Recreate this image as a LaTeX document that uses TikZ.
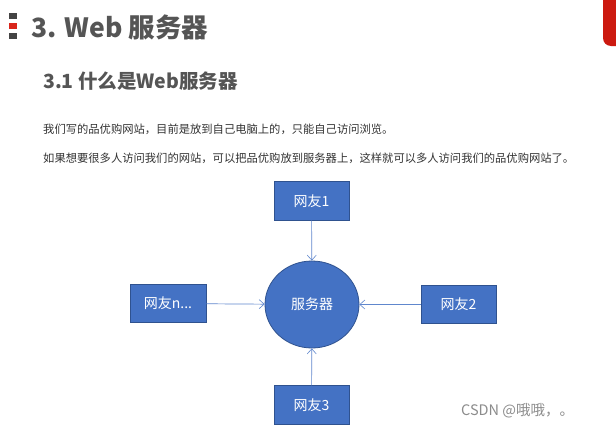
\documentclass[tikz,border=0pt]{standalone}
\usepackage{fontspec}
\setmainfont{Noto Sans CJK SC}
\usetikzlibrary{arrows.meta,shapes.geometric}
\definecolor{boxblue}{HTML}{4472C4}
\definecolor{boxedge}{HTML}{2F528F}
\definecolor{titlegray}{HTML}{555555}
\definecolor{textgray}{HTML}{333333}
\definecolor{barred}{HTML}{D9261C}
\definecolor{markred}{HTML}{CC1A10}
\tikzset{
  userbox/.style={draw=boxedge, fill=boxblue, line width=0.8pt, minimum width=75pt, minimum height=38.5pt, inner sep=0pt, text=white, font=\fontsize{14pt}{16pt}\selectfont},
  server/.style={ellipse, draw=boxedge, fill=boxblue, line width=0.8pt, minimum width=94pt, minimum height=87pt, inner sep=0pt, text=white, font=\fontsize{14pt}{16pt}\selectfont},
  link/.style={draw=boxblue!85!white, line width=0.7pt, -{Straight Barb[length=5pt,width=9pt,line width=0.6pt]}},
}
\begin{document}
\begin{tikzpicture}[x=1pt,y=-1pt]
\useasboundingbox[fill=white] (0,0) rectangle (616,426);
% top-right red mark
\fill[markred, rounded corners=8pt] (603,-10) rectangle (630,46);
% title bar
\fill[titlegray!80!black] (9,13) rectangle (17,19);
\fill[barred] (9,23) rectangle (17,29);
\fill[titlegray!80!black] (9,33) rectangle (17,39);
\node[anchor=base west, inner sep=0pt, text=titlegray, font=\fontsize{26.5pt}{30pt}\selectfont\bfseries] (title) at (31,37) {3. Web 服务器};
\node[anchor=base west, inner sep=0pt, text=titlegray, font=\fontsize{19.5pt}{21pt}\selectfont\bfseries] (sub) at (43,88) {3.1 什么是Web服务器};
\node[anchor=base west, inner sep=0pt, text=textgray, font=\fontsize{11.3pt}{13pt}\selectfont] (p1) at (43,133) {我们写的品优购网站，目前是放到自己电脑上的，只能自己访问浏览。};
\node[anchor=base west, inner sep=0pt, text=textgray, font=\fontsize{11.3pt}{13pt}\selectfont] (p2) at (43,162) {如果想要很多人访问我们的网站，可以把品优购放到服务器上，这样就可以多人访问我们的品优购网站了。};
% diagram
\node[server] (srv) at (312,304.5) {服务器};
\node[userbox] (u1) at (311.5,201) {网友1};
\node[userbox, minimum width=76pt] (un) at (168,303.5) {网友n...};
\node[userbox] (u2) at (458.5,304.5) {网友2};
\node[userbox] (u3) at (311.5,405) {网友3};
\draw[link] (u1) -- (srv);
\draw[link] (un) -- (srv);
\draw[link] (u2) -- (srv);
\draw[link] (u3) -- (srv);
% watermark
\node[anchor=base west, inner sep=0pt, text=black!45, font=\fontsize{14.5pt}{16pt}\selectfont] (wm) at (461,415) {CSDN @哦哦，。};
\end{tikzpicture}
\end{document}
